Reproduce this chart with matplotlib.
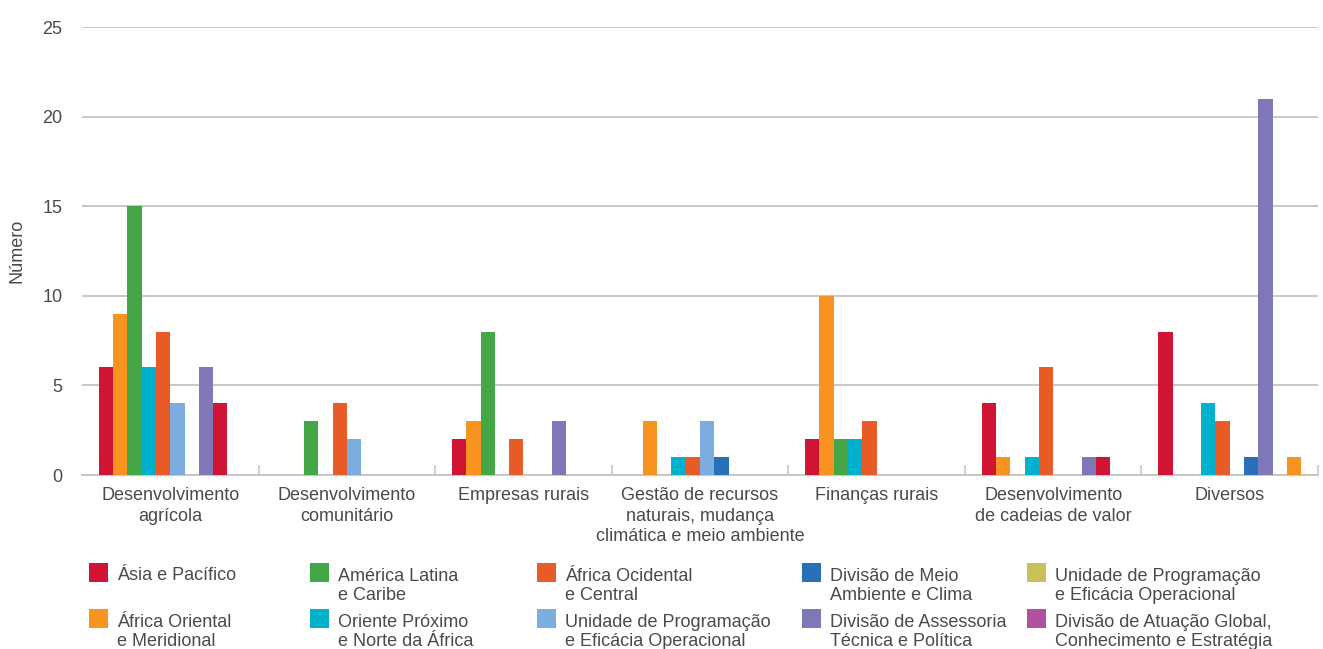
import numpy as np
import matplotlib
matplotlib.use("Agg")
import matplotlib.pyplot as plt
from matplotlib.patches import Rectangle

plt.rcParams['font.family'] = ['Liberation Sans', 'DejaVu Sans']

# Data
categories = ['Desenvolvimento\nagrícola', 'Desenvolvimento\ncomunitário', 'Empresas rurais',
              'Gestão de recursos\nnaturais, mudança\nclimática e meio ambiente',
              'Finanças rurais', 'Desenvolvimento\nde cadeias de valor', 'Diversos']

asia_pacifico = [6, 0, 2, 0, 2, 4, 8]
africa_oriental = [9, 0, 3, 3, 10, 1, 0]
america_latina = [15, 3, 8, 0, 2, 0, 0]
oriente_proximo = [6, 0, 0, 1, 2, 1, 4]
africa_ocidental = [8, 4, 2, 1, 3, 6, 3]
unidade_prog = [4, 2, 0, 3, 0, 0, 0]
meio_ambiente = [0, 0, 0, 1, 0, 0, 1]
assessoria = [6, 0, 3, 0, 0, 1, 21]
atuacao_global = [4, 0, 0, 0, 0, 1, 0]
unidade_prog_2 = [0, 0, 0, 0, 0, 0, 1]

series = [asia_pacifico, africa_oriental, america_latina, oriente_proximo, africa_ocidental,
          unidade_prog, meio_ambiente, assessoria, atuacao_global, unidade_prog_2]
# bar colours as drawn in the source chart
bar_colors = ['#CF1434', '#F7931E', '#45A647', '#00B1CD', '#E85A26',
              '#7BAEDE', '#2A70B9', '#7E78B8', '#CF1434', '#F7931E']

# legend (laid out row by row, 5 columns)
legend_labels = ['Ásia e Pacífico', 'América Latina\ne Caribe', 'África Ocidental\ne Central',
                 'Divisão de Meio\nAmbiente e Clima', 'Unidade de Programação\ne Eficácia Operacional',
                 'África Oriental\ne Meridional', 'Oriente Próximo\ne Norte da África',
                 'Unidade de Programação\ne Eficácia Operacional', 'Divisão de Assessoria\nTécnica e Política',
                 'Divisão de Atuação Global,\nConhecimento e Estratégia']
legend_colors = ['#CF1434', '#45A647', '#E85A26', '#2A70B9', '#C8C05A',
                 '#F7931E', '#00B1CD', '#7BAEDE', '#7E78B8', '#B0509E']

W, H = 1323, 649
text_color = '#4a4a4a'
grid_color = '#c4c4c4'

fig = plt.figure(figsize=(W / 100, H / 100), dpi=100)
ax = fig.add_axes([82 / W, 1 - 475 / H, (1318 - 82) / W, (475 - 27) / H])

x = np.arange(len(categories))
width = 0.081
n = len(series)
for i, (vals, c) in enumerate(zip(series, bar_colors)):
    ax.bar(x + (i - (n - 1) / 2) * width, vals, width=width, color=c, zorder=3)

ax.set_xlim(-0.5, len(categories) - 0.5)
ax.set_ylim(0, 25)
ax.set_yticks(range(0, 26, 5))
ax.yaxis.grid(True, color=grid_color, linewidth=1.3, zorder=0)
ax.set_axisbelow(True)
for s in ['top', 'right', 'left']:
    ax.spines[s].set_visible(False)
ax.spines['bottom'].set_color(grid_color)
ax.spines['bottom'].set_linewidth(1.3)

ax.set_xticks(x)
ax.set_xticklabels(categories, fontsize=13, color=text_color, linespacing=1.24)
ax.set_xticks(np.arange(0.5, len(categories), 1), minor=True)
ax.tick_params(axis='x', which='major', length=0, pad=9)
ax.tick_params(axis='x', which='minor', direction='in', length=7.5, width=1.1, color=grid_color)
ax.tick_params(axis='y', length=0, pad=14, labelsize=13, labelcolor=text_color)

ax.set_ylabel('Número', fontsize=13, color=text_color)
ax.yaxis.set_label_coords((26 - 82) / (1318 - 82), 0.5)

# legend drawn by hand to match the source layout
col_x = [89, 310, 537, 802, 1027]
row_base = [580, 626]
line_step = 20
for k, (lab, c) in enumerate(zip(legend_labels, legend_colors)):
    r, col = divmod(k, 5)
    px = col_x[col]
    top = row_base[r] - 17
    fig.add_artist(Rectangle((px / W, 1 - (top + 19) / H), 19 / W, 19 / H,
                             transform=fig.transFigure, color=c, linewidth=0))
    last_base = row_base[r] + line_step * lab.count('\n')
    fig.text((px + 28) / W, 1 - last_base / H, lab, fontsize=13, color=text_color,
             va='baseline', ha='left', linespacing=1.18)

fig.savefig('out.png', dpi=100)
